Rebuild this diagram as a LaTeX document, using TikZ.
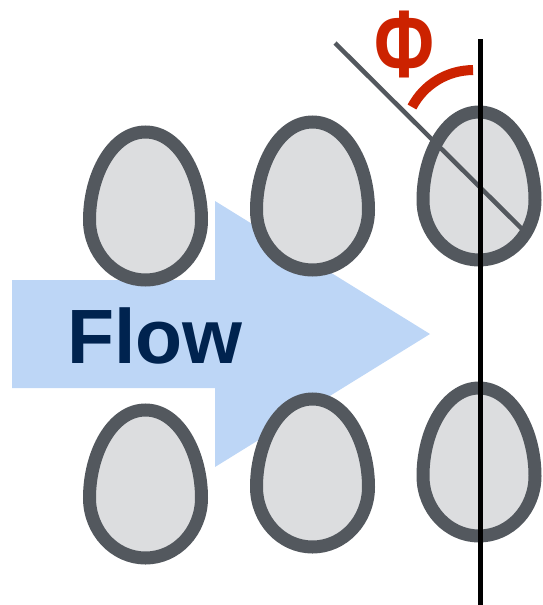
\documentclass[tikz,border=0pt]{standalone}
\usepackage{fontspec}
\setmainfont{Liberation Sans}
\definecolor{flowblue}{HTML}{BDD6F6}
\definecolor{flowtext}{HTML}{00234F}
\definecolor{eggfill}{HTML}{DCDDDF}
\definecolor{eggedge}{HTML}{53585E}
\definecolor{anglered}{HTML}{CC2200}
\begin{document}
\begin{tikzpicture}[x=1pt,y=-1pt,
  eggline/.style={draw=eggedge,fill=eggfill,line width=13pt},
  flowarrow/.style={fill=flowblue,draw=none},
  axisline/.style={draw=black,line width=5pt},
  tiltline/.style={draw=eggedge,line width=4.5pt},
  anglearc/.style={draw=anglered,line width=10pt},
  eggshape/.pic={
    \path[eggline] (0,60) .. controls (31,60) and (56,33) .. (56,0)
      .. controls (56,-45) and (33,-88) .. (0,-88)
      .. controls (-33,-88) and (-56,-45) .. (-56,0)
      .. controls (-56,33) and (-31,60) .. (0,60) -- cycle;
  }]
\useasboundingbox (0,0) rectangle (542,605);

% flow arrow
\path[flowarrow] (12,280) -- (215,280) -- (215,201) -- (430,334)
  -- (215,467) -- (215,388) -- (12,388) -- cycle;
\node[anchor=base west,inner sep=0pt,text=flowtext,
  font=\bfseries\fontsize{77}{77}\selectfont] (flow) at (67,363) {Flow};

% array of eggs
\pic at (145.5,220) {eggshape};
\pic at (312.5,210) {eggshape};
\pic at (479,200) {eggshape};
\pic at (145.5,498) {eggshape};
\pic at (312.5,487) {eggshape};
\pic at (479,476) {eggshape};

% tilted axis and vertical reference
\coordinate (tiltA) at (335,43);
\coordinate (tiltB) at (524,231);
\coordinate (vertA) at (480,39);
\coordinate (vertB) at (480,605);
\draw[tiltline] (tiltA) -- (tiltB);
\draw[axisline] (vertA) -- (vertB);

% angle marker
\coordinate (arcS) at (412,107);
\draw[anglearc] (arcS) arc[start angle=207.7,end angle=270,radius=69];
\node[anchor=base,inner sep=0pt,text=anglered,xscale=0.76,
  font=\bfseries\fontsize{96}{96}\selectfont] (phi) at (404,77) {Φ};
\end{tikzpicture}
\end{document}
